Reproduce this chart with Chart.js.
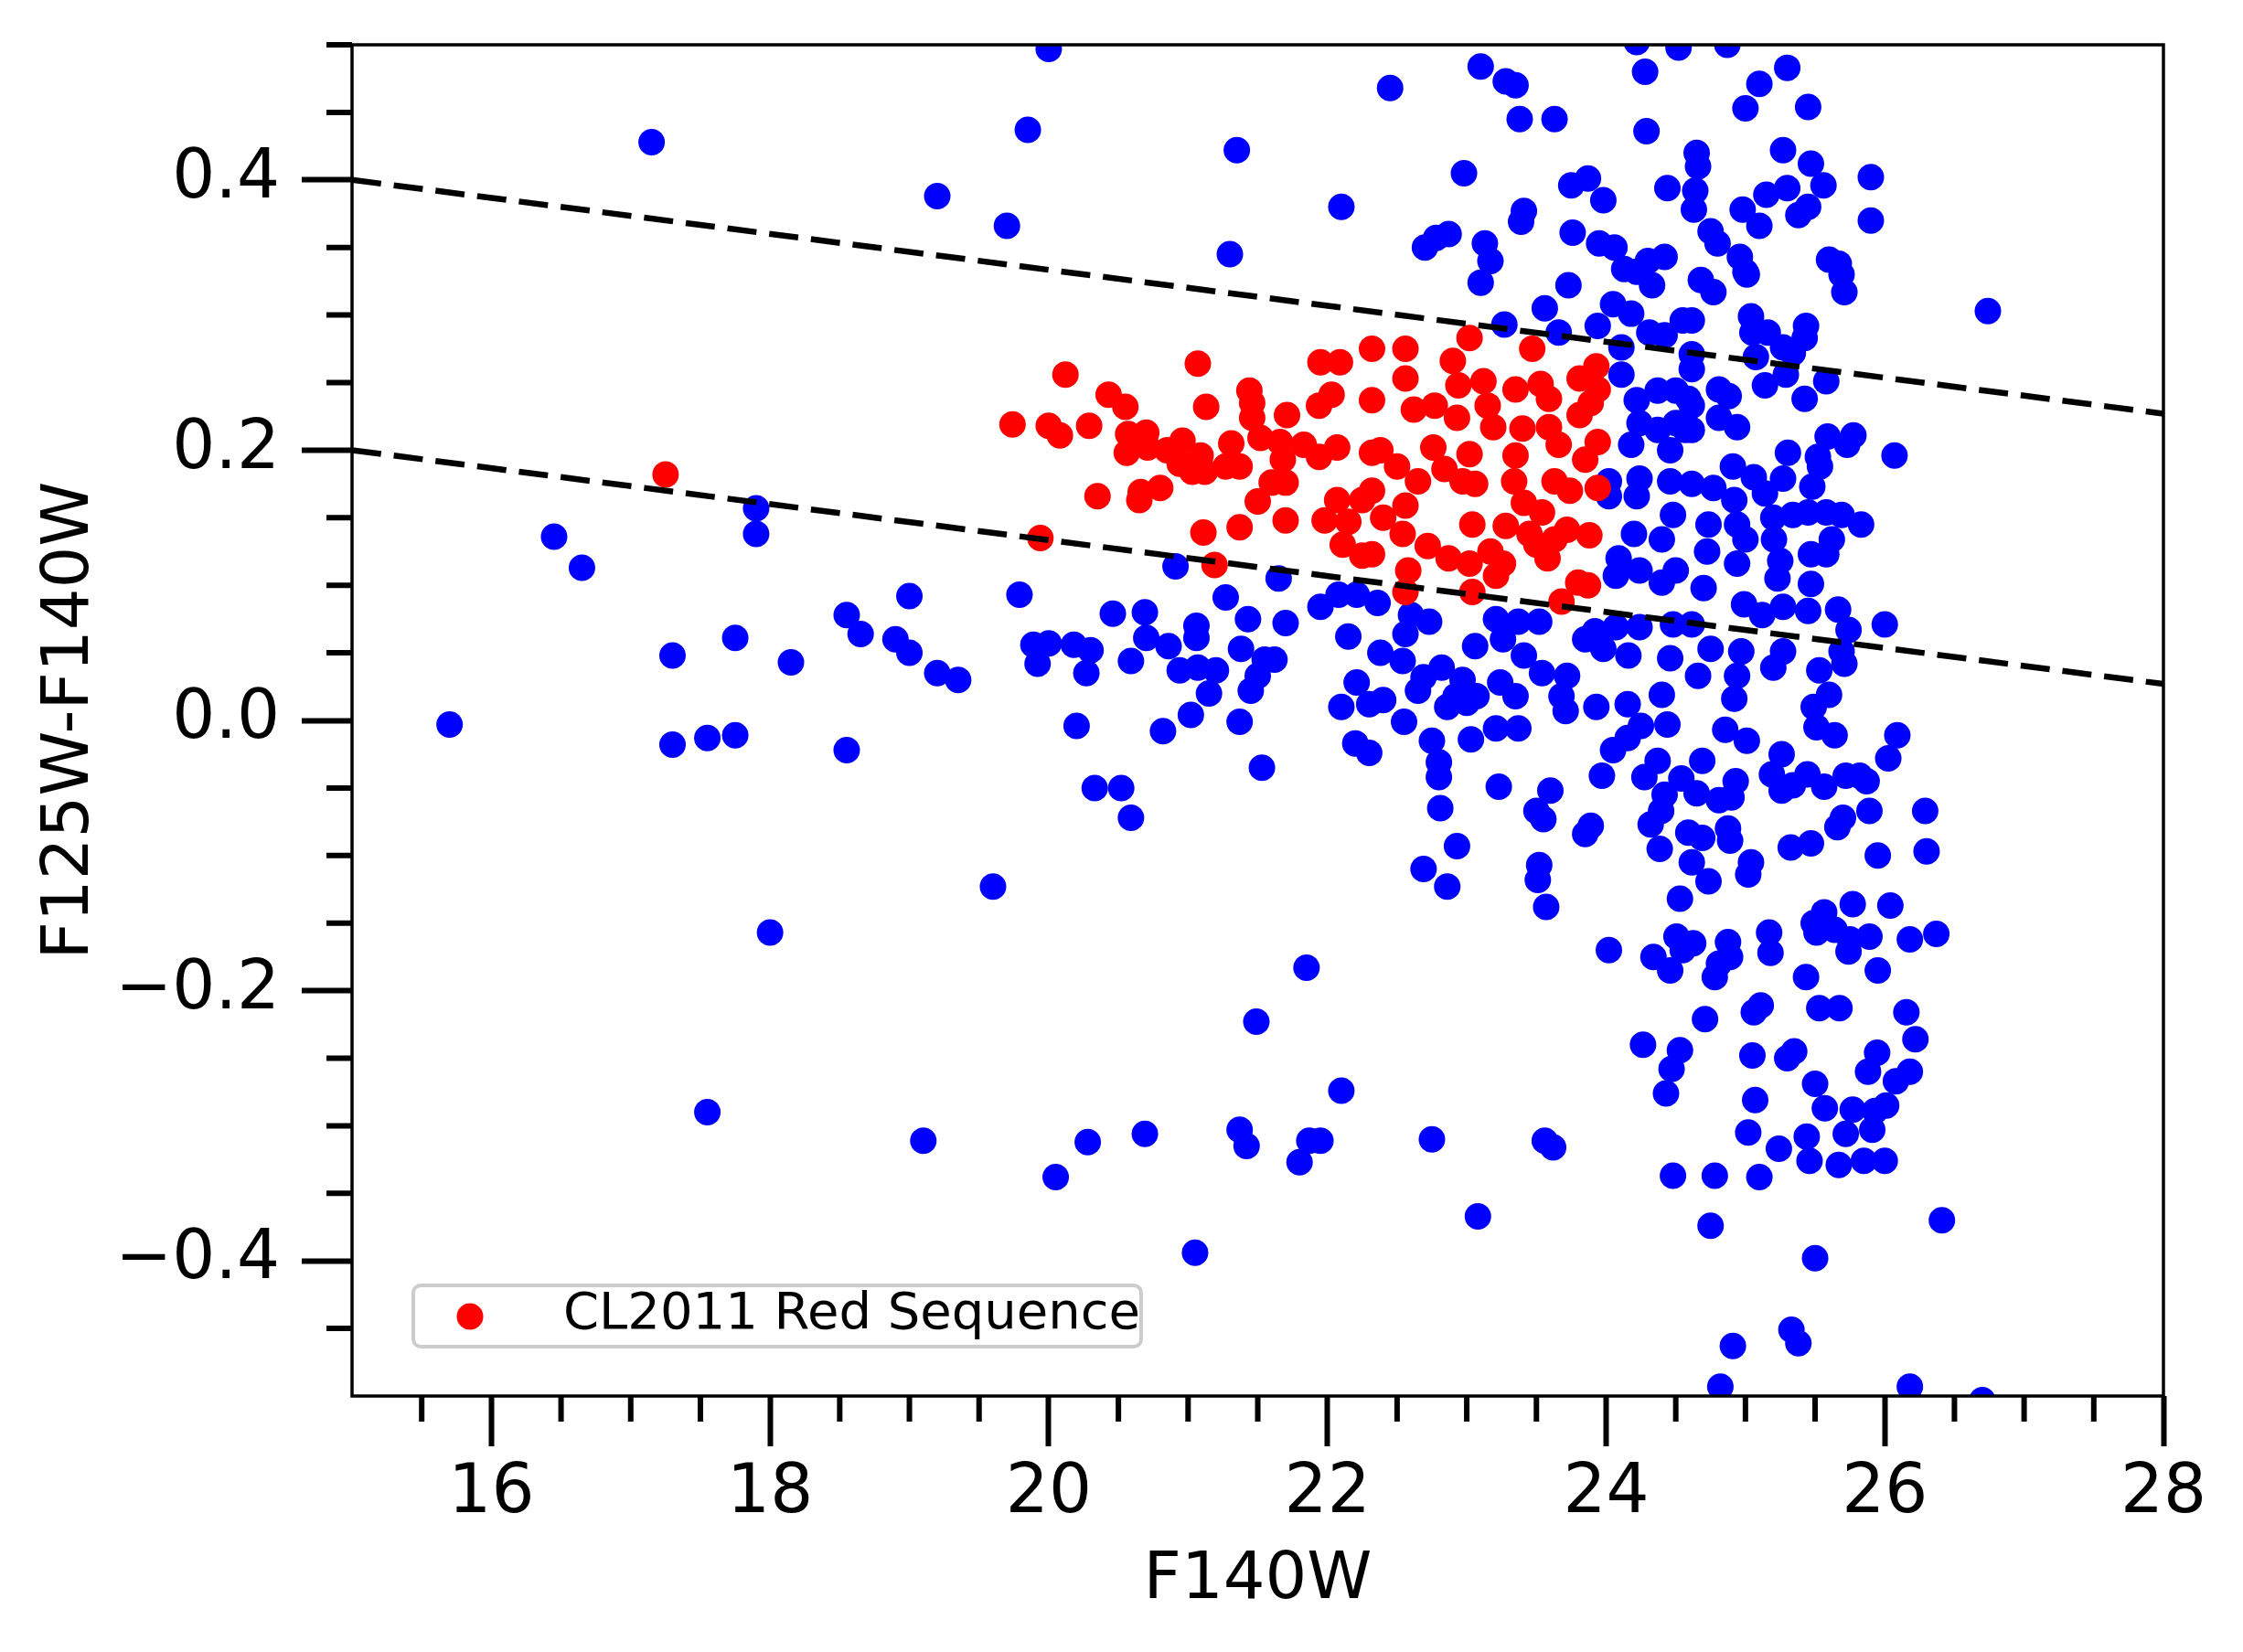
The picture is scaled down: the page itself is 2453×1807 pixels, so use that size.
<!DOCTYPE html>
<html>
<head>
<meta charset="utf-8">
<script src="https://cdn.jsdelivr.net/npm/chart.js@4.4.1/dist/chart.umd.min.js"></script>
<style>
  html, body { margin: 0; padding: 0; background: #fff; }
  #wrap { width: 2453px; height: 1807px; }
</style>
</head>
<body>
<div id="wrap"><canvas id="myChart"></canvas></div>
<script>
// F140W magnitude, F125W-F140W colour
var redSequence = [
  [17.25,0.182],
  [19.74,0.219],[19.94,0.135],[20.0,0.218],[20.08,0.211],[20.12,0.256],[20.29,0.218],[20.35,0.166],[20.43,0.241],
  [20.55,0.232],[20.56,0.198],[20.57,0.212],[20.65,0.163],[20.66,0.169],[20.7,0.213],[20.71,0.202],[20.8,0.172],
  [20.85,0.2],[20.94,0.19],[20.96,0.207],[21.03,0.184],[21.07,0.264],[21.09,0.196],[21.11,0.139],[21.12,0.184],
  [21.13,0.232],[21.19,0.115],[21.27,0.188],[21.31,0.205],[21.37,0.188],[21.37,0.143],[21.44,0.244],[21.46,0.235],
  [21.46,0.224],[21.5,0.162],[21.52,0.209],[21.6,0.176],[21.66,0.206],[21.68,0.193],[21.7,0.176],[21.7,0.148],
  [21.71,0.226],[21.83,0.204],[21.94,0.195],[21.94,0.233],[21.95,0.265],[21.98,0.148],[22.03,0.241],[22.07,0.202],
  [22.07,0.163],[22.09,0.265],[22.11,0.13],[22.15,0.147],[22.25,0.122],[22.25,0.163],[22.32,0.275],[22.32,0.237],
  [22.32,0.198],[22.56,0.275],[23.02,0.283],[23.47,0.275],[22.9,0.266],[22.56,0.253],[22.94,0.248],[23.12,0.251],
  [23.35,0.245],[23.53,0.249],[23.59,0.238],[23.93,0.262],[23.81,0.253],[23.94,0.245],[23.89,0.235],[22.62,0.23],
  [22.77,0.233],[22.93,0.224],[23.15,0.233],[23.19,0.217],[23.4,0.216],[23.59,0.217],[23.81,0.226],[22.38,0.2],
  [22.5,0.188],[22.76,0.202],[23.02,0.197],[23.35,0.196],[23.66,0.204],[23.94,0.206],[23.85,0.193],[22.65,0.177],
  [22.84,0.186],[22.97,0.177],[23.06,0.175],[23.34,0.177],[23.63,0.177],[23.74,0.17],[23.94,0.172],[22.32,0.17],
  [22.56,0.159],[22.4,0.15],[22.54,0.138],[23.04,0.145],[23.28,0.144],[23.41,0.161],[23.54,0.154],[23.45,0.138],
  [23.63,0.134],[23.72,0.141],[23.88,0.137],[22.72,0.129],[22.87,0.12],[23.02,0.116],[23.17,0.125],[23.26,0.116],
  [23.21,0.107],[23.5,0.13],[23.58,0.12],[22.32,0.123],[22.58,0.111],[22.56,0.095],[23.04,0.095],[23.68,0.088],
  [23.8,0.102],[23.87,0.1]
];

var otherSources = [
  // bright end
  [15.7,-0.003],[16.45,0.136],[16.65,0.113],[17.15,0.428],[17.3,0.048],[17.3,-0.018],[17.55,-0.013],[17.55,-0.29],
  [17.75,0.061],[17.75,-0.011],[17.9,0.157],[17.9,0.138],[18.0,-0.157],[18.15,0.043],[18.55,0.078],[18.55,-0.022],
  [18.65,0.064],[18.9,0.06],[19.0,0.092],[19.0,0.05],[19.1,-0.311],[19.2,0.388],[19.2,0.035],[19.35,0.03],
  [19.6,-0.123],[19.7,0.366],[19.85,0.437],[20.0,0.497],[20.05,-0.338],
  // 19.4 - 22.3
  [20.91,0.114],[19.79,0.093],[20.46,0.079],[20.69,0.08],[21.27,0.091],[21.65,0.105],[21.43,0.075],[21.7,0.072],
  [21.06,0.07],[21.06,0.061],[20.7,0.061],[20.86,0.055],[19.89,0.056],[20.0,0.057],[20.18,0.056],[20.3,0.052],
  [19.92,0.042],[20.27,0.035],[20.59,0.044],[21.38,0.053],[21.55,0.045],[21.62,0.045],[20.94,0.037],[21.07,0.039],
  [21.2,0.037],[21.5,0.033],[21.95,0.084],[22.08,0.093],[22.21,0.093],[22.15,0.062],[22.21,0.028],
  [21.15,0.02],[21.45,0.022],[21.02,0.004],
  [20.2,-0.004],[20.33,-0.05],[20.52,-0.05],[20.59,-0.072],[20.28,-0.312],[20.69,-0.306],[20.82,-0.008],
  [21.05,-0.394],[21.37,-0.001],[21.37,-0.303],[21.42,-0.315],[21.49,-0.223],[21.53,-0.035],[21.8,-0.327],
  [21.85,-0.183],[21.87,-0.311],[21.95,-0.311],[21.3,0.345],[21.35,0.422],
  // 22.3 - 24.6, red sequence band
  [23.56,0.305],[23.27,0.293],[23.66,0.287],[23.94,0.292],[24.05,0.308],[24.18,0.301],[24.31,0.287],[24.42,0.285],
  [24.55,0.296],[24.11,0.276],[24.11,0.256],[24.22,0.237],[24.37,0.244],[24.5,0.244],[24.59,0.238],[24.24,0.22],
  [24.37,0.215],[24.5,0.22],[24.57,0.215],[24.18,0.204],[24.46,0.2],[24.02,0.177],[24.24,0.179],[24.46,0.177],
  [24.22,0.166],[24.02,0.166],[24.48,0.152],[24.2,0.138],[24.4,0.134],[24.09,0.12],[24.07,0.107],[24.24,0.111],
  [24.4,0.102],[24.5,0.111],[23.92,0.066],[24.07,0.069],[24.24,0.069],[24.48,0.071],[23.85,0.06],[23.98,0.053],
  [24.16,0.048],[24.46,0.046],[22.36,0.087],[22.6,0.078],[22.73,0.073],[22.56,0.064],[22.38,0.05],[22.54,0.044],
  [23.21,0.075],[23.37,0.073],[23.52,0.073],[23.06,0.055],[23.26,0.06],[23.41,0.048],[22.82,0.039],[22.69,0.032],
  [22.97,0.03],[23.54,0.035],[23.72,0.033],[23.24,0.028],
  // 22 - 24.2, below zero
  [22.1,0.01],[22.2,-0.017],[22.3,-0.024],[22.3,0.012],[22.4,0.015],[22.55,-0.001],[22.65,0.022],[22.69,-0.11],
  [22.75,-0.015],[22.75,-0.31],[22.8,-0.031],[22.8,-0.042],[22.81,-0.065],[22.86,-0.123],[22.93,-0.093],
  [22.86,0.01],[22.92,0.018],[23.0,0.013],[23.03,-0.014],[23.08,-0.367],[23.07,0.018],[23.21,-0.006],[23.23,-0.049],
  [23.35,0.018],[23.37,-0.006],[23.5,-0.067],[23.55,-0.073],[23.52,-0.107],[23.51,-0.118],[23.57,-0.138],
  [23.6,-0.052],[23.56,-0.311],[23.62,-0.316],[23.68,0.018],[23.71,0.007],[23.85,-0.084],[23.89,-0.078],
  [23.93,0.01],[23.97,-0.041],[24.02,-0.17],[24.05,-0.022],[22.1,-0.274],
  // upper part
  [22.1,0.38],[22.45,0.468],[22.7,0.35],[22.78,0.357],[22.87,0.36],[22.98,0.405],[23.1,0.484],[23.13,0.353],
  [23.17,0.34],[23.1,0.324],[23.28,0.473],[23.35,0.47],[23.38,0.445],[23.39,0.369],[23.41,0.377],[23.63,0.445],
  [23.75,0.396],[23.76,0.361],[23.73,0.322],[23.87,0.401],[23.98,0.385],[23.95,0.353],[24.06,0.35],[24.13,0.334],
  [24.22,0.332],[24.3,0.34],[24.42,0.343],[24.33,0.322],[24.28,0.48],[24.29,0.436],[24.44,0.394],[24.22,0.502],
  [24.52,0.498],[24.87,0.5],[24.64,0.392],[24.63,0.378],[24.65,0.42],[24.66,0.41],[24.75,0.362],[24.8,0.353],
  [24.96,0.343],[25.0,0.332],[25.0,0.453],[25.1,0.471],[25.3,0.483],[25.45,0.454],[25.27,0.422],[25.47,0.412],
  [24.98,0.378],[25.1,0.366],[25.15,0.389],[25.3,0.394],[25.38,0.374],[25.45,0.38],[25.56,0.396],[25.9,0.402],
  [25.9,0.37],[25.6,0.341],[25.67,0.338],
  // 24.6 - 27, upper band
  [24.68,0.326],[24.77,0.317],[25.01,0.33],[25.69,0.33],[25.71,0.317],[26.74,0.303],[24.615,0.296],[25.04,0.299],
  [25.05,0.287],[25.16,0.287],[25.435,0.292],[25.425,0.283],[25.075,0.269],[25.27,0.276],[25.34,0.272],
  [24.615,0.271],[24.615,0.26],[25.14,0.248],[25.29,0.256],[25.425,0.238],[25.58,0.251],[24.81,0.245],[24.88,0.24],
  [24.615,0.233],[24.81,0.224],[24.94,0.217],[24.615,0.215],[25.59,0.21],[25.775,0.211],[25.73,0.204],[26.07,0.196],
  [25.305,0.198],[25.52,0.195],[25.535,0.188],[25.48,0.173],[24.91,0.188],[25.06,0.18],[25.27,0.179],[25.14,0.168],
  [24.615,0.175],[24.77,0.172],[24.92,0.163],[25.2,0.15],[25.34,0.152],[25.45,0.154],[25.58,0.154],[25.69,0.152],
  [25.83,0.145],[24.735,0.145],[24.94,0.145],[25.0,0.134],[25.205,0.134],[25.25,0.118],[25.47,0.123],[25.58,0.123],
  [25.62,0.134],[24.725,0.125],[24.94,0.116],[24.7,0.098],[25.23,0.105],[25.47,0.101],[24.99,0.086],[25.12,0.078],
  [25.27,0.084],[25.45,0.081],[25.665,0.082],[25.74,0.067],[26.0,0.071],[24.615,0.071],[24.75,0.053],[24.97,0.051],
  [24.66,0.033],[24.94,0.033],[25.27,0.051],[25.2,0.039],[25.53,0.037],[25.71,0.042],[25.69,0.051],
  // 24.1 - 26.5, below zero
  [24.155,0.012],[24.4,0.019],[24.92,0.016],[25.49,0.01],[25.6,0.019],[24.25,-0.004],[24.44,-0.003],[24.155,-0.013],
  [24.855,-0.007],[25.01,-0.015],[25.51,-0.005],[25.64,-0.011],[26.09,-0.011],[26.025,-0.028],[24.37,-0.03],
  [24.69,-0.03],[25.26,-0.025],[24.275,-0.042],[24.54,-0.043],[24.93,-0.045],[25.19,-0.04],[24.42,-0.055],
  [24.65,-0.054],[24.81,-0.059],[24.9,-0.057],[25.26,-0.052],[25.34,-0.048],[25.445,-0.04],[25.565,-0.049],
  [25.72,-0.041],[25.82,-0.041],[25.87,-0.045],[24.395,-0.067],[24.32,-0.077],[24.385,-0.095],[24.59,-0.083],
  [24.69,-0.087],[24.615,-0.105],[24.735,-0.119],[24.875,-0.08],[24.89,-0.089],[25.04,-0.105],[25.02,-0.114],
  [25.7,-0.072],[25.66,-0.079],[25.89,-0.067],[26.29,-0.067],[26.3,-0.097],[25.325,-0.094],[25.47,-0.091],
  [25.95,-0.1],[24.53,-0.132],[25.77,-0.136],[26.04,-0.137],[25.565,-0.142],[25.49,-0.15],[25.51,-0.157],
  [25.64,-0.155],[25.75,-0.162],[25.74,-0.171],[25.89,-0.16],[26.18,-0.162],[26.37,-0.158],[24.505,-0.16],
  [24.625,-0.165],[24.34,-0.175],[24.46,-0.185],[24.55,-0.17],[24.875,-0.164],[24.89,-0.175],[24.81,-0.18],
  [24.78,-0.19],[25.17,-0.157],[25.18,-0.172],[25.435,-0.19],[25.95,-0.185],[24.71,-0.221],[25.11,-0.211],
  [25.06,-0.216],[25.53,-0.213],[25.675,-0.213],[26.155,-0.216],[26.22,-0.236],[24.265,-0.24],[24.53,-0.244],
  [25.05,-0.248],[25.35,-0.245],[25.3,-0.25],[25.945,-0.246],
  // faint, very negative colours
  [24.43,-0.276],[24.47,-0.258],[24.48,-0.337],[24.75,-0.374],[24.78,-0.337],[24.82,-0.493],[24.91,-0.463],
  [25.02,-0.305],[25.1,-0.338],[25.07,-0.281],[25.24,-0.317],[25.33,-0.451],[25.38,-0.461],[25.44,-0.308],
  [25.46,-0.326],[25.5,-0.398],[25.57,-0.287],[25.5,-0.269],[25.67,-0.329],[25.72,-0.306],[25.77,-0.288],
  [25.85,-0.326],[26.0,-0.326],[25.91,-0.303],[25.93,-0.289],[26.01,-0.285],[25.88,-0.26],[26.08,-0.267],
  [26.18,-0.26],[26.41,-0.37],[26.18,-0.493],[26.7,-0.503]
];

// dashed selection cuts
var cutX = [15, 28];
var upperCutY = [0.4, 0.227];
var lowerCutY = [0.2, 0.027];

var xTickLabels = [16, 18, 20, 22, 24, 26, 28];
var yTickLabels = [-0.4, -0.2, 0.0, 0.2, 0.4];

function toPoints(arr) {
  return arr.map(function(p) { return {x: p[0], y: p[1]}; });
}
function cutPoints(ys) {
  return cutX.map(function(x, i) { return {x: x, y: ys[i]}; });
}
function isLabelled(v, list) {
  return list.some(function(t) { return Math.abs(t - v) < 1e-9; });
}

Chart.defaults.font.family = "'DejaVu Sans', sans-serif";
Chart.defaults.color = '#000';

// minor ticks, frame and a matplotlib-like legend
var extras = {
  id: 'extras',
  afterDraw: function(chart) {
    var ctx = chart.ctx, a = chart.chartArea;
    var xs = chart.scales.x, ys = chart.scales.y;
    ctx.save();
    ctx.strokeStyle = '#000';
    ctx.lineWidth = 6;
    ctx.beginPath();
    xs.ticks.forEach(function(t) {
      if (isLabelled(t.value, xTickLabels) || t.value === xs.min) return;
      var px = xs.getPixelForValue(t.value);
      ctx.moveTo(px, a.bottom);
      ctx.lineTo(px, a.bottom + 28);
    });
    ys.ticks.forEach(function(t) {
      if (isLabelled(t.value, yTickLabels) || t.value === ys.min) return;
      var py = ys.getPixelForValue(t.value);
      ctx.moveTo(a.left, py);
      ctx.lineTo(a.left - 28, py);
    });
    ctx.stroke();

    ctx.lineWidth = 3.5;
    ctx.strokeRect(a.left, a.top, a.right - a.left, a.bottom - a.top);

    // legend box
    var ds = chart.data.datasets[1];
    var bx = a.left + 67, by = a.bottom - 121, bw = 796, bh = 67, r = 8;
    ctx.beginPath();
    ctx.moveTo(bx + r, by);
    ctx.arcTo(bx + bw, by, bx + bw, by + bh, r);
    ctx.arcTo(bx + bw, by + bh, bx, by + bh, r);
    ctx.arcTo(bx, by + bh, bx, by, r);
    ctx.arcTo(bx, by, bx + bw, by, r);
    ctx.closePath();
    ctx.fillStyle = 'rgba(255,255,255,0.8)';
    ctx.fill();
    ctx.strokeStyle = '#cccccc';
    ctx.lineWidth = 4;
    ctx.stroke();

    ctx.beginPath();
    ctx.arc(bx + 62, by + 34, 14.5, 0, Math.PI * 2);
    ctx.fillStyle = ds.backgroundColor;
    ctx.fill();

    ctx.fillStyle = '#000';
    ctx.font = "56px 'DejaVu Sans'";
    ctx.textBaseline = 'middle';
    ctx.textAlign = 'left';
    ctx.fillText(ds.label, bx + 164, by + 32);
    ctx.restore();
  }
};

var ctx = document.getElementById('myChart').getContext('2d');
var chart = new Chart(ctx, {
  type: 'scatter',
  data: {
    datasets: [
      {
        label: 'upper cut',
        data: cutPoints(upperCutY),
        showLine: true,
        borderColor: '#000',
        borderWidth: 6.5,
        borderDash: [32, 14],
        pointRadius: 0,
        order: 0
      },
      {
        label: 'CL2011 Red Sequence',
        data: toPoints(redSequence),
        backgroundColor: '#ff0000',
        borderWidth: 0,
        pointRadius: 14.5,
        order: 1
      },
      {
        label: 'lower cut',
        data: cutPoints(lowerCutY),
        showLine: true,
        borderColor: '#000',
        borderWidth: 6.5,
        borderDash: [32, 14],
        pointRadius: 0,
        order: 0
      },
      {
        label: 'all sources',
        data: toPoints(otherSources),
        backgroundColor: '#0000ff',
        borderWidth: 0,
        pointRadius: 14.5,
        order: 2
      }
    ]
  },
  options: {
    responsive: true,
    maintainAspectRatio: false,
    devicePixelRatio: 1,
    animation: false,
    events: [],
    layout: { padding: { top: 49, right: 87, left: 0, bottom: 0 } },
    plugins: {
      legend: { display: false },
      tooltip: { enabled: false }
    },
    scales: {
      x: {
        type: 'linear',
        position: 'bottom',
        min: 15,
        max: 28,
        border: { display: false },
        grid: {
          drawOnChartArea: false,
          drawTicks: true,
          tickLength: 55,
          tickWidth: 6,
          tickColor: function(c) {
            return (c.tick && isLabelled(c.tick.value, xTickLabels)) ? '#000' : 'rgba(0,0,0,0)';
          }
        },
        ticks: {
          stepSize: 0.5,
          autoSkip: false,
          maxRotation: 0,
          padding: 8,
          font: { size: 74 },
          callback: function(v) { return isLabelled(v, xTickLabels) ? String(Math.round(v)) : ''; }
        },
        title: {
          display: true,
          text: 'F140W',
          font: { size: 72 },
          padding: { top: 0, bottom: 35 }
        },
        afterFit: function(s) {
          s.height = 280;
          s.paddingLeft = 0;
          s.paddingRight = 0;
        }
      },
      y: {
        type: 'linear',
        min: -0.5,
        max: 0.5,
        border: { display: false },
        grid: {
          drawOnChartArea: false,
          drawTicks: true,
          tickLength: 55,
          tickWidth: 6,
          tickColor: function(c) {
            return (c.tick && isLabelled(c.tick.value, yTickLabels)) ? '#000' : 'rgba(0,0,0,0)';
          }
        },
        ticks: {
          stepSize: 0.05,
          autoSkip: false,
          padding: 24,
          font: { size: 74 },
          callback: function(v) {
            if (!isLabelled(v, yTickLabels)) return '';
            var s = Math.abs(v) < 1e-9 ? '0.0' : v.toFixed(1);
            return s.replace('-', '\u2212');
          }
        },
        title: {
          display: true,
          text: 'F125W-F140W',
          font: { size: 72 },
          padding: { top: 34, bottom: 0 }
        },
        afterFit: function(s) {
          s.width = 385;
          s.paddingTop = 0;
          s.paddingBottom = 0;
        }
      }
    }
  },
  plugins: [extras]
});
</script>
</body>
</html>
